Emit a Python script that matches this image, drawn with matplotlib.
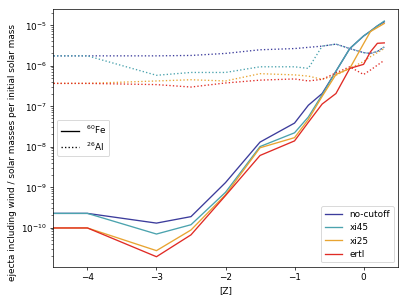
import numpy as np
import matplotlib
matplotlib.use("Agg")
import matplotlib.pyplot as plt
from matplotlib.lines import Line2D

# metallicity grid [Z]
z = np.array([-5, -4, -3, -2.5, -2, -1.5, -1, -0.8, -0.6, -0.4, -0.2, 0, 0.1, 0.2, 0.3])

models = ["no-cutoff", "xi45", "xi25", "ertl"]
colors = ["#3c3c9c", "#4ba3ae", "#e8a431", "#e02b25"]

# log10 of 60Fe yields
fe60_log = {
    "no-cutoff": [-9.65, -9.65, -9.89, -9.73, -8.89, -7.89, -7.42, -6.98, -6.69, -6.14, -5.58, -5.27, -5.15, -5.02, -4.92],
    "xi45":      [-9.65, -9.65, -10.16, -9.93, -9.13, -8.00, -7.66, -7.27, -6.72, -6.14, -5.58, -5.27, -5.15, -5.02, -4.90],
    "xi25":      [-10.01, -10.01, -10.57, -10.06, -9.19, -8.03, -7.78, -7.33, -6.76, -6.22, -6.07, -5.46, -5.16, -5.06, -4.96],
    "ertl":      [-10.01, -10.01, -10.72, -10.18, -9.21, -8.22, -7.86, -7.40, -6.95, -6.69, -6.07, -5.97, -5.66, -5.45, -5.44],
}

# log10 of 26Al yields
al26_log = {
    "no-cutoff": [-5.76, -5.76, -5.76, -5.75, -5.70, -5.61, -5.58, -5.55, -5.52, -5.47, -5.58, -5.68, -5.70, -5.65, -5.54],
    "xi45":      [-5.76, -5.76, -6.24, -6.17, -6.17, -6.03, -6.03, -6.07, -5.52, -5.47, -5.58, -5.68, -5.70, -5.65, -5.54],
    "xi25":      [-6.44, -6.44, -6.38, -6.35, -6.38, -6.20, -6.23, -6.26, -6.34, -6.24, -6.07, -5.90, -5.78, -5.68, -5.58],
    "ertl":      [-6.44, -6.44, -6.47, -6.53, -6.43, -6.36, -6.33, -6.38, -6.34, -6.18, -6.03, -6.22, -6.11, -5.99, -5.87],
}

yticks = [1e-10, 1e-9, 1e-8, 1e-7, 1e-6, 1e-5]
xticks = [-4, -3, -2, -1, 0]

fig = plt.figure(figsize=(6.4, 4.8), dpi=63.6)
ax = fig.add_axes([0.130, 0.125, 0.848, 0.845])

handles = []
for m, c in zip(models, colors):
    h, = ax.plot(z, 10 ** np.array(fe60_log[m]), color=c, ls="-", label=m)
    ax.plot(z, 10 ** np.array(al26_log[m]), color=c, ls=":")
    handles.append(h)

ax.set_yscale("log")
ax.set_xlim(-4.5, 0.5)
ax.set_ylim(10 ** -10.97, 10 ** -4.6)
ax.set_yticks(yticks)
ax.set_xticks(xticks)
ax.set_xlabel("[Z]")
ax.set_ylabel("ejecta including wind / solar masses per initial solar mass")
ax.yaxis.set_label_coords(-0.105, 0.445)

leg1 = ax.legend(handles=handles, loc="lower right")
ax.add_artist(leg1)
iso = [Line2D([], [], color="k", ls="-"), Line2D([], [], color="k", ls=":")]
ax.legend(iso, ["$^{60}$Fe", "$^{26}$Al"], loc="center left")

fig.savefig("out.png", dpi=63.6)
